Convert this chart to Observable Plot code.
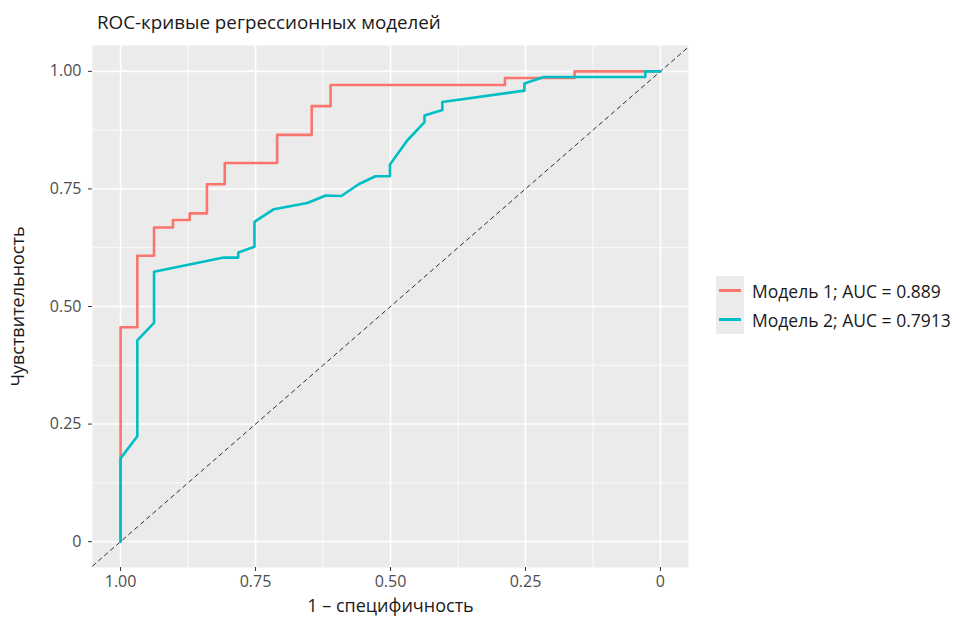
<!DOCTYPE html>
<html>
<head>
<meta charset="utf-8">
<script src="https://cdn.jsdelivr.net/npm/d3@7"></script>
<script src="https://cdn.jsdelivr.net/npm/@observablehq/plot@0.6"></script>
<style>
  html, body { margin: 0; padding: 0; background: #fff; }
  #wrap { position: relative; width: 956px; height: 619px; font-family: "Open Sans", sans-serif; }
  #title { position: absolute; left: 97px; top: 9px; font-size: 18.8px; color: #1a1a1a; white-space: nowrap; }
  #legend { position: absolute; left: 716px; top: 276px; font-size: 17.5px; color: #1a1a1a; }
  .row { display: flex; align-items: center; height: 29px; }
  .key { width: 28px; height: 29px; background: #EBEBEB; display: flex; align-items: center; justify-content: center; }
  .key span { display: block; width: 22px; height: 2.6px; }
  .lab { margin-left: 8px; white-space: nowrap; }
</style>
</head>
<body>
<div id="wrap">
  <div id="chart"></div>
  <div id="title"></div>
  <div id="legend"></div>
</div>
<script>
// ---- data ----
const titleText = "ROC-кривые регрессионных моделей";
const xLabel = "1 – специфичность";
const yLabel = "Чувствительность";
const seriesNames = ["Модель 1; AUC = 0.889", "Модель 2; AUC = 0.7913"];
const seriesColors = ["#F8766D", "#00BFC4"];

const xTicks = [1.00, 0.75, 0.50, 0.25, 0];
const xTickLabels = ["1.00", "0.75", "0.50", "0.25", "0"];
const yTicks = [0, 0.25, 0.50, 0.75, 1.00];
const yTickLabels = ["0", "0.25", "0.50", "0.75", "1.00"];
const minorTicks = [0.125, 0.375, 0.625, 0.875];

// Model 1 (specificity, sensitivity)
const m1Spec = [1, 1, 1, 0.969, 0.969, 0.938, 0.938, 0.903, 0.903, 0.872, 0.872, 0.840, 0.840, 0.807, 0.807, 0.710, 0.710, 0.646, 0.646, 0.611, 0.611, 0.288, 0.288, 0.159, 0.159, 0];
const m1Sens = [0, 0.175, 0.456, 0.456, 0.608, 0.608, 0.668, 0.668, 0.684, 0.684, 0.698, 0.698, 0.760, 0.760, 0.805, 0.805, 0.865, 0.865, 0.926, 0.926, 0.971, 0.971, 0.986, 0.986, 1.0, 1.0];

// Model 2
const m2Spec = [1, 1, 0.969, 0.969, 0.938, 0.938, 0.809, 0.782, 0.782, 0.752, 0.752, 0.716, 0.654, 0.620, 0.591, 0.559, 0.528, 0.501, 0.501, 0.469, 0.437, 0.437, 0.404, 0.404, 0.252, 0.252, 0.216, 0.028, 0.028, 0];
const m2Sens = [0, 0.177, 0.224, 0.428, 0.465, 0.574, 0.604, 0.604, 0.615, 0.627, 0.680, 0.707, 0.720, 0.736, 0.735, 0.760, 0.777, 0.777, 0.802, 0.853, 0.892, 0.906, 0.918, 0.935, 0.959, 0.974, 0.988, 0.988, 1.0, 1.0];

// ---- build ----
const xDomain = [1.052, -0.052];
const yDomain = [-0.055, 1.055];
const m1 = m1Spec.map((s, i) => ({spec: s, sens: m1Sens[i]}));
const m2 = m2Spec.map((s, i) => ({spec: s, sens: m2Sens[i]}));
const diag = xDomain.map(s => ({spec: s, sens: 1 - s}));

const font = "'Open Sans', sans-serif";
const chart = Plot.plot({
  width: 956, height: 619,
  marginLeft: 92, marginRight: 268, marginTop: 45, marginBottom: 52,
  style: {fontFamily: font, fontSize: "16px", color: "#4D4D4D", background: "transparent", overflow: "visible"},
  x: {domain: xDomain},
  y: {domain: yDomain},
  marks: [
    Plot.frame({fill: "#EBEBEB", stroke: null}),
    Plot.gridX(minorTicks, {stroke: "#fff", strokeOpacity: 1, strokeWidth: 0.8}),
    Plot.gridY(minorTicks, {stroke: "#fff", strokeOpacity: 1, strokeWidth: 0.8}),
    Plot.gridX(xTicks, {stroke: "#fff", strokeOpacity: 1, strokeWidth: 1.6}),
    Plot.gridY(yTicks, {stroke: "#fff", strokeOpacity: 1, strokeWidth: 1.6}),
    Plot.line(diag, {x: "spec", y: "sens", stroke: "#1a1a1a", strokeWidth: 0.9, strokeDasharray: "4,4"}),
    Plot.line(m1, {x: "spec", y: "sens", stroke: seriesColors[0], strokeWidth: 2.6}),
    Plot.line(m2, {x: "spec", y: "sens", stroke: seriesColors[1], strokeWidth: 2.6}),
    Plot.axisX(xTicks, {tickFormat: (d, i) => xTickLabels[i], tickSize: 4, tickPadding: 4, stroke: "#333",
      label: xLabel, labelArrow: "none", labelAnchor: "center", labelOffset: 44, fill: "#4D4D4D"}),
    Plot.axisY(yTicks, {tickFormat: (d, i) => yTickLabels[i], tickSize: 4, tickPadding: 7, stroke: "#333",
      label: yLabel, labelArrow: "none", labelAnchor: "center", labelOffset: 81, fill: "#4D4D4D"})
  ]
});
document.getElementById("chart").appendChild(chart);
chart.querySelectorAll("[aria-label='x-axis label'] text, [aria-label='y-axis label'] text").forEach(t => {
  t.setAttribute("fill", "#1a1a1a"); t.style.fontSize = "18px";
});

document.getElementById("title").textContent = titleText;
const leg = document.getElementById("legend");
seriesNames.forEach((n, i) => {
  const row = document.createElement("div"); row.className = "row";
  const key = document.createElement("div"); key.className = "key";
  const sw = document.createElement("span"); sw.style.background = seriesColors[i];
  key.appendChild(sw);
  const lab = document.createElement("div"); lab.className = "lab"; lab.textContent = n;
  row.appendChild(key); row.appendChild(lab); leg.appendChild(row);
});
</script>
</body>
</html>
